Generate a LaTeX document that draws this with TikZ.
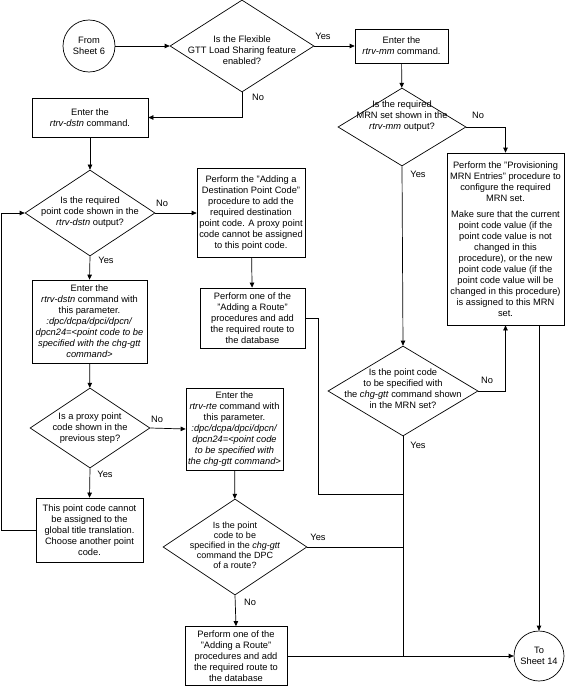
\documentclass[tikz,border=0pt]{standalone}
\usepackage{fontspec}
\setmainfont{Liberation Sans}
\usetikzlibrary{shapes.geometric, arrows.meta}

\begin{document}
\begin{tikzpicture}[x=1pt, y=-1pt, line width=0.7pt,
  every node/.style={font=\fontsize{9.3}{11}\selectfont},
  box/.style={draw, rectangle, align=center, inner sep=0pt},
  dia/.style={draw, diamond, inner sep=0pt},
  term/.style={draw, circle, align=center, inner sep=0pt},
  arr/.style={-{Triangle[length=5pt,width=4.5pt]}}]

\useasboundingbox (0,0) rectangle (565,688);

% terminals
\node[term, minimum size=52pt] (from6) at (89,46) {From\\Sheet 6};
\node[term, minimum size=50pt] (to14) at (539,656) {To\\Sheet 14};

% decisions
\node[dia, minimum width=144pt, minimum height=92pt] (d1) at (242,46) {};
\node[align=center] (d1t) at (242,50) {Is the Flexible\\GTT Load Sharing feature\\enabled?};
\node[dia, minimum width=128pt, minimum height=78pt] (dmrn) at (402,127) {};
\node[align=center] (dmrnt) at (402,116) {Is the required\\MRN set shown in the\\\textit{rtrv-mm} output?};
\node[dia, minimum width=130pt, minimum height=86pt] (d2) at (90,213) {};
\node[align=center] (d2t) at (90,212) {Is the required\\point code shown in the\\\textit{rtrv-dstn} output?};
\node[dia, minimum width=120pt, minimum height=80pt] (d3) at (90,428) {};
\node[align=center] (d3t) at (90,428) {Is a proxy point\\code shown in the\\previous step?};
\node[dia, minimum width=150pt, minimum height=90pt] (dpc) at (403,391) {};
\node[align=center] (dpct) at (403,389) {Is the point code\\to be specified with\\the \textit{chg-gtt} command shown\\in the MRN set?};
\node[dia, minimum width=144pt, minimum height=96pt] (d4) at (235,547) {};
\node[align=center, font=\fontsize{9}{10}\selectfont] (d4t) at (235,545) {Is the point\\code to be\\specified in the \textit{chg-gtt}\\command the DPC\\of a route?};

% boxes
\node[box, minimum width=93pt, minimum height=34pt] (bmm) at (401.5,46) {Enter the\\\textit{rtrv-mm} command.};
\node[box, minimum width=116pt, minimum height=39pt] (bdstn) at (90,117.5) {Enter the\\\textit{rtrv-dstn} command.};
\node[box, minimum width=108pt, minimum height=89pt] (bdpc) at (251,213) {Perform the "Adding a\\Destination Point Code"\\procedure to add the\\required destination\\point code. A proxy point\\code cannot be assigned\\to this point code.};
\node[box, minimum width=105pt, minimum height=60pt] (brte1) at (252.5,318) {Perform one of the\\"Adding a Route"\\procedures and add\\the required route to\\the database};
\node[box, minimum width=117pt, minimum height=172pt] (bmrn) at (505.5,239) {Perform the "Provisioning\\MRN Entries" procedure to\\configure the required\\MRN set.\\[5pt]Make sure that the current\\point code value (if the\\point code value is not\\changed in this\\procedure), or the new\\point code value (if the\\point code value will be\\changed in this procedure)\\is assigned to this MRN\\set.};
\node[box, minimum width=115pt, minimum height=83pt] (bpdst) at (89.5,321.5) {Enter the\\\textit{rtrv-dstn} command with\\this parameter.\\\textit{:dpc/dcpa/dpci/dpcn/}\\\textit{dpcn24=<point code to be}\\\textit{specified with the chg-gtt}\\\textit{command>}};
\node[box, minimum width=97pt, minimum height=82pt] (brte) at (234.5,429) {Enter the\\\textit{rtrv-rte} command with\\this parameter.\\\textit{:dpc/dcpa/dpci/dpcn/}\\\textit{dpcn24=<point code}\\\textit{to be specified with}\\\textit{the chg-gtt command>}};
\node[box, minimum width=107pt, minimum height=64pt] (bcannot) at (89.5,530) {This point code cannot\\be assigned to the\\global title translation.\\Choose another point\\code.};
\node[box, minimum width=102pt, minimum height=59pt] (brte2) at (236,656) {Perform one of the\\"Adding a Route"\\procedures and add\\the required route to\\the database};

% labels
\node (y1) at (323,36) {Yes};
\node (n1) at (258,97) {No};
\node (n2) at (478,115) {No};
\node (y2) at (418,174) {Yes};
\node (n3) at (162,203) {No};
\node (y3) at (106,260) {Yes};
\node (n4) at (157,419) {No};
\node (y4) at (105,474) {Yes};
\node (n5) at (487,380) {No};
\node (y5) at (418,445) {Yes};
\node (y6) at (318,537) {Yes};
\node (n6) at (250,602) {No};

% connectors
\coordinate (k1) at (318,494);
\draw[arr] (from6) -- (d1);
\draw[arr] (d1.east) -- (bmm.west);
\draw[arr] (d1.south) |- (bdstn.east);
\draw[arr] (bdstn) -- (d2);
\draw[arr] (d2.east) -- (bdpc.west);
\draw[arr] (bdpc) -- (brte1);
\draw (brte1.east) -| (k1) -- (k1 -| dpc.south);
\draw[arr] (bmm) -- (dmrn);
\draw[arr] (dmrn.east) -| (bmrn.north);
\draw[arr] (dmrn.south) -- (dpc.north);
\draw[arr] (dpc.east) -| (bmrn.south);
\draw[arr] (to14.north |- bmrn.south) -- (to14.north);
\draw[arr] (dpc.south) |- (to14.west);
\draw[arr] (d2.south) -- (bpdst.north);
\draw[arr] (bpdst) -- (d3);
\draw[arr] (d3.east) -- (brte.west);
\draw[arr] (d3.south) -- (bcannot.north);
\draw[arr] (bcannot.west) -- ++(-34,0) |- (d2.west);
\draw[arr] (brte) -- (d4);
\draw (d4.east) -- (d4.east -| dpc.south);
\draw[arr] (d4.south) -- (brte2.north);
\draw (brte2.east) -- (brte2.east -| dpc.south);

\end{tikzpicture}
\end{document}
